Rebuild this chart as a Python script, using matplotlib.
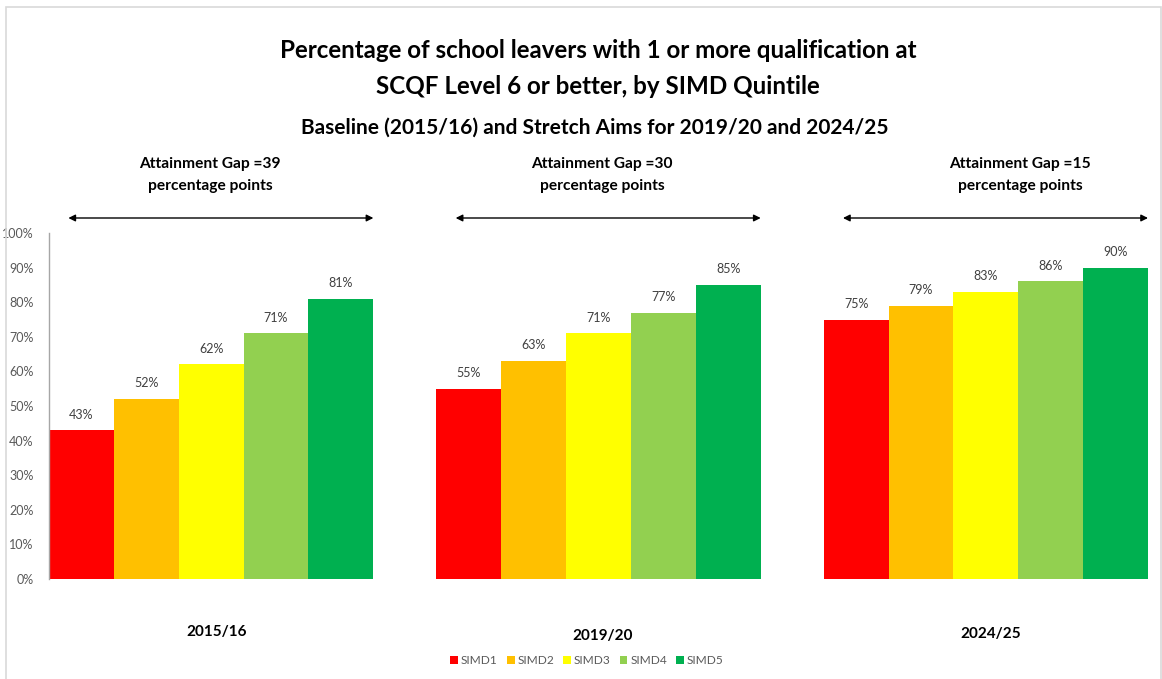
import matplotlib
matplotlib.use("Agg")
import matplotlib.pyplot as plt
from matplotlib.patches import Rectangle
import numpy as np

plt.rcParams['font.family'] = ['Lato', 'DejaVu Sans']

years = ["2015/16", "2019/20", "2024/25"]
series = ["SIMD1", "SIMD2", "SIMD3", "SIMD4", "SIMD5"]
colors = ["#FF0000", "#FFC000", "#FFFF00", "#92D050", "#00B050"]
values = {
    "SIMD1": [43, 55, 75],
    "SIMD2": [52, 63, 79],
    "SIMD3": [62, 71, 83],
    "SIMD4": [71, 77, 86],
    "SIMD5": [81, 85, 90],
}
gaps = [39, 30, 15]
yticks = [0, 10, 20, 30, 40, 50, 60, 70, 80, 90, 100]

W, H = 1162, 679
fig = plt.figure(figsize=(W / 100, H / 100), dpi=100)
fig.patch.set_facecolor("white")
# outer frame
fig.patches.append(Rectangle((6 / W, -0.05), (1161 - 6) / W, 1.05 - 7 / H,
                             transform=fig.transFigure, fill=False,
                             edgecolor="#D9D9D9", linewidth=1.2))

ax = fig.add_axes([49 / W, 1 - 579 / H, (1148 - 49) / W, (579 - 233) / H])
w = 0.1675
x = np.arange(len(years))
for i, s in enumerate(series):
    xs = x + (i - 2) * w
    ax.bar(xs, values[s], width=w, color=colors[i], label=s, zorder=2)
    for xb, v in zip(xs, values[s]):
        ax.text(xb, v + 2.8, f"{v}%", ha="center", va="bottom",
                fontsize=9, color="#404040")

ax.set_xlim(-2.5 * w, 2 + 2.5 * w)
ax.set_ylim(0, 100)
ax.set_yticks(yticks)
ax.set_yticklabels([f"{t}%" for t in yticks], fontsize=9, color="#595959")
ax.tick_params(axis="y", length=0, pad=11)
ax.tick_params(axis="x", length=0, labelbottom=False)
for sp in ["top", "right", "bottom"]:
    ax.spines[sp].set_visible(False)
ax.spines["left"].set_color("#A6A6A6")
ax.spines["left"].set_linewidth(1.0)

# titles
fig.text(598 / W, 1 - 51 / H, "Percentage of school leavers with 1 or more qualification at",
         ha="center", va="center", fontsize=17.4, fontweight="bold", color="black")
fig.text(598 / W, 1 - 86 / H, "SCQF Level 6 or better, by SIMD Quintile",
         ha="center", va="center", fontsize=17.4, fontweight="bold", color="black")
fig.text(595 / W, 1 - 128 / H, "Baseline (2015/16) and Stretch Aims for 2019/20 and 2024/25",
         ha="center", va="center", fontsize=15, fontweight="bold", color="black")

# gap annotations
arrow_y = (579 - 218) / (579 - 233)
text_cx = [210, 602, 1020]
label_pos = [(217, 632), (603, 636), (991, 634)]
for k in range(3):
    left_edge = x[k] - 2.5 * w
    right_edge = x[k] + 2.5 * w
    ax.annotate("", xy=(right_edge, arrow_y), xytext=(left_edge + 0.05, arrow_y),
                xycoords=("data", "axes fraction"), textcoords=("data", "axes fraction"),
                arrowprops=dict(arrowstyle="<|-|>", color="black", lw=1.0,
                                mutation_scale=10, shrinkA=0, shrinkB=0),
                annotation_clip=False)
    fig.text(text_cx[k] / W, 1 - 164 / H, f"Attainment Gap ={gaps[k]}",
             ha="center", va="center", fontsize=11.2, fontweight="bold")
    fig.text(text_cx[k] / W, 1 - 186 / H, "percentage points",
             ha="center", va="center", fontsize=11.2, fontweight="bold")
    fig.text(label_pos[k][0] / W, 1 - label_pos[k][1] / H, years[k],
             ha="center", va="center", fontsize=11, fontweight="bold")

leg = fig.legend(loc="center", bbox_to_anchor=(587 / W, 1 - 661 / H), ncol=5,
                 frameon=False, fontsize=8.6, handlelength=0.65, handleheight=0.65,
                 handletextpad=0.25, columnspacing=0.75)
for t in leg.get_texts():
    t.set_color("#595959")

fig.savefig("out.png", dpi=100)
